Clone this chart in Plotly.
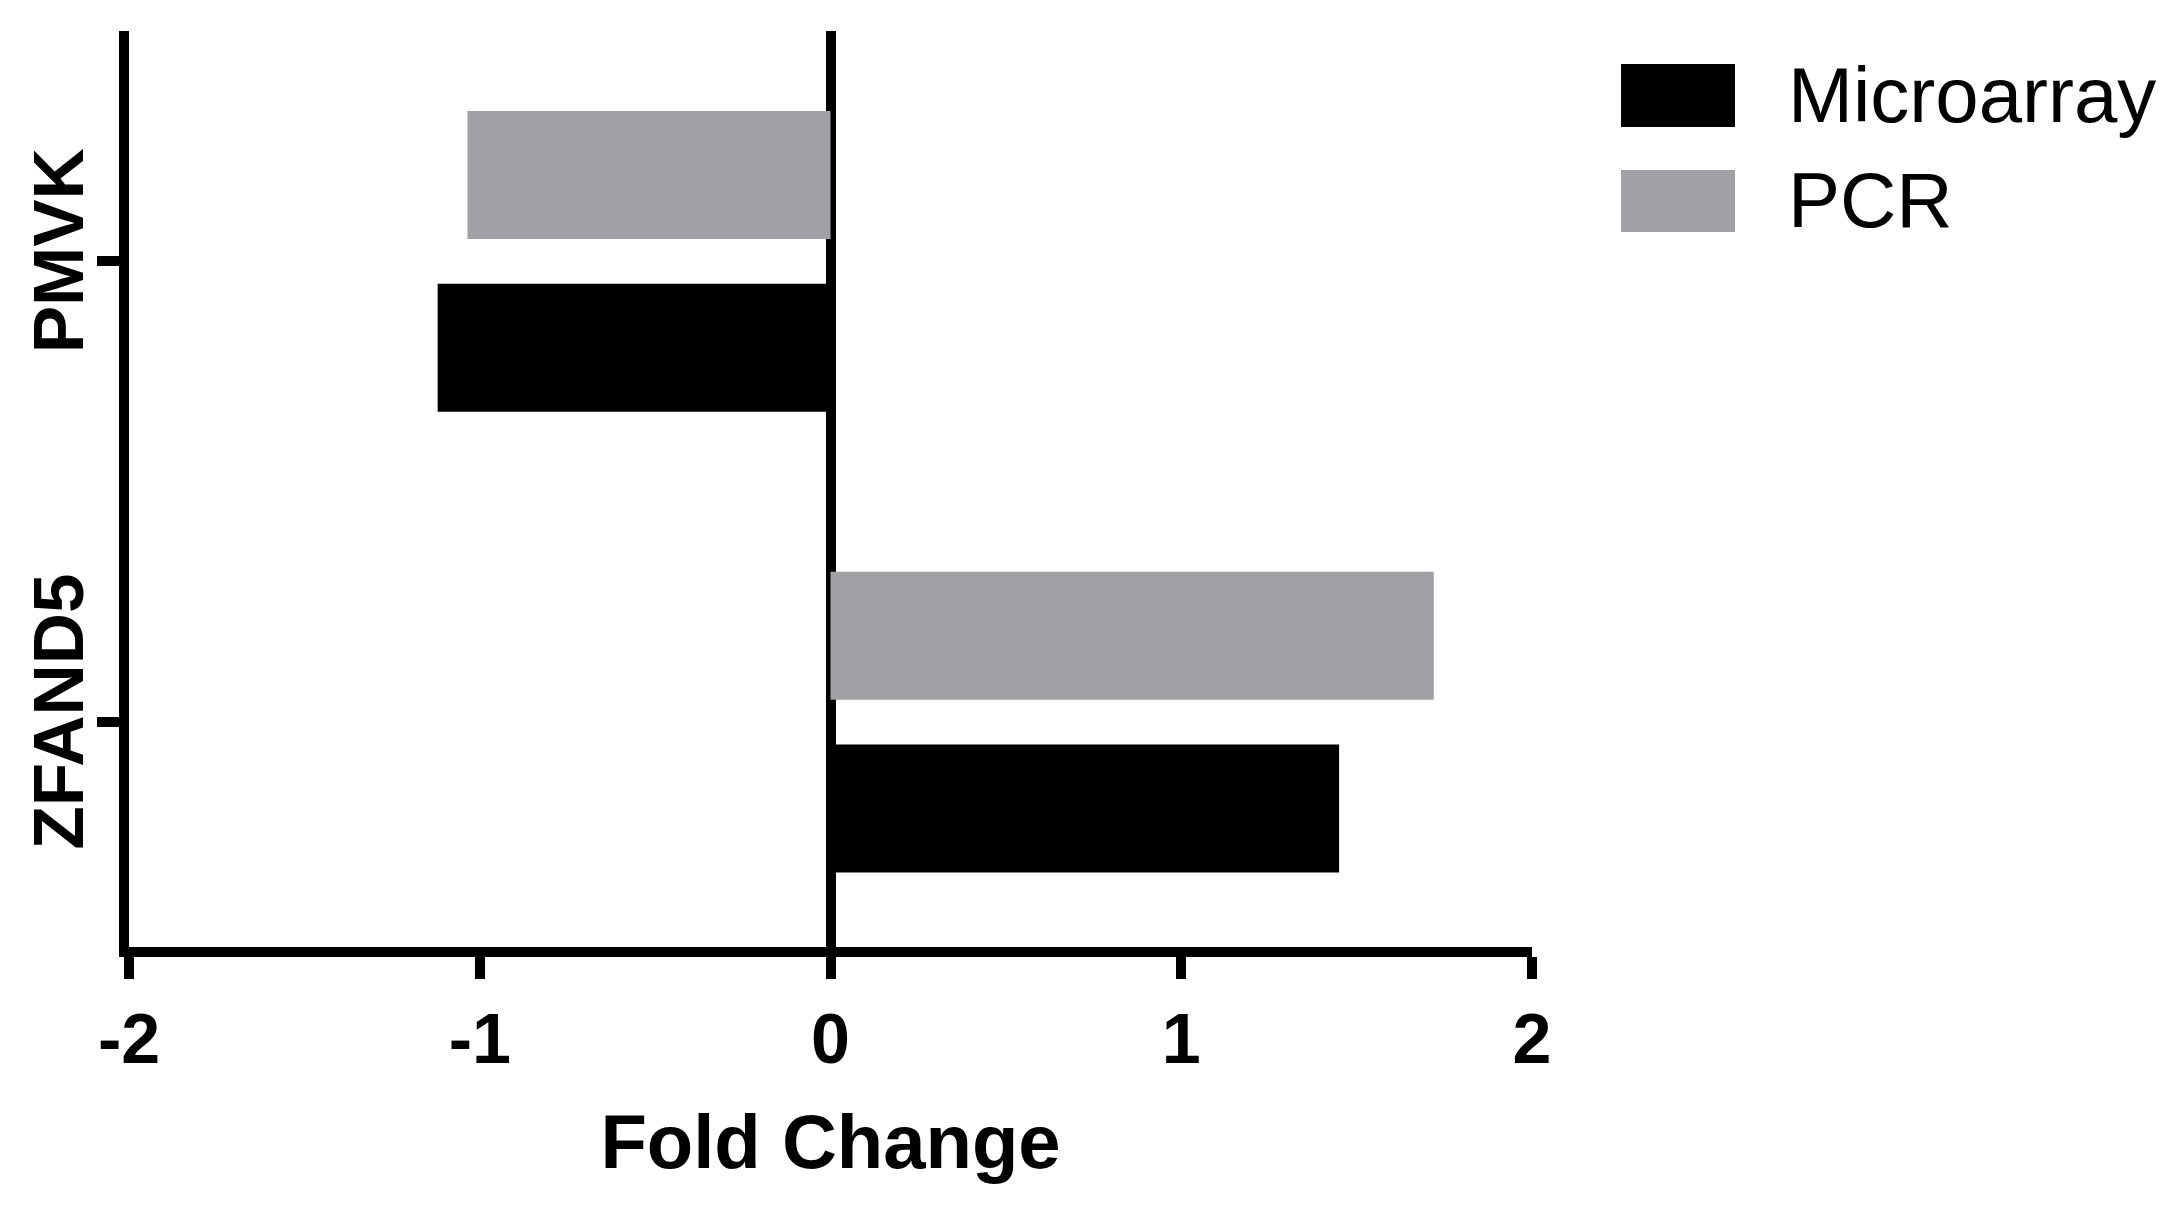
import plotly.graph_objects as go

# data
genes = ["ZFAND5", "PMVK"]
series = ["Microarray", "PCR"]
microarray = [1.45, -1.12]
pcr = [1.72, -1.035]
colors = ["#000000", "#A1A0A4"]
x_ticks = [-2, -1, 0, 1, 2]

W, H = 2184, 1217
OFF = 8  # default body margin of the html page
FW, FH = W - 2 * OFF, H - 2 * OFF
FONT = "Arial, Liberation Sans, sans-serif"


def px(x):
    return (x - OFF) / FW


def py(y):
    return 1 - (y - OFF) / FH


fig = go.Figure()
for name, vals, col in zip(series, [microarray, pcr], colors):
    fig.add_trace(go.Bar(
        y=genes, x=vals, name=name, orientation="h",
        marker=dict(color=col, line=dict(width=0)),
        showlegend=False,
    ))

fig.update_layout(
    width=FW, height=FH,
    margin=dict(l=0, r=0, t=0, b=0),
    paper_bgcolor="white", plot_bgcolor="white",
    barmode="group", bargap=0.25, bargroupgap=0.26,
    font=dict(family=FONT, color="black"),
)

fig.update_xaxes(
    domain=[px(129), px(1532)], automargin=False,
    range=[-2, 2], tickvals=x_ticks, ticktext=[str(t) for t in x_ticks],
    showgrid=False, showline=True, linewidth=10, linecolor="black",
    zeroline=True, zerolinewidth=10, zerolinecolor="black",
    ticks="outside", ticklen=22, tickwidth=10, tickcolor="black",
    tickfont=dict(size=70, family=FONT, weight="bold"),
    ticklabelstandoff=0,
    title=dict(text="Fold Change", font=dict(size=76, family=FONT, weight="bold"), standoff=42),
    layer="above traces",
)
fig.update_yaxes(
    domain=[py(947), py(31)], automargin=False,
    type="category", categoryorder="array", categoryarray=genes,
    range=[-0.488, 1.5],
    showgrid=False, showline=True, linewidth=10, linecolor="black",
    zeroline=False,
    ticks="outside", ticklen=22, tickwidth=10, tickcolor="black",
    tickangle=-90,
    tickfont=dict(size=71, family=FONT, weight="bold"),
    ticklabelstandoff=-14,
    layer="above traces",
)

# custom legend with large swatches
rows = [(64, 127, 93), (170, 232, 198)]
for (top, bot, mid), name, col in zip(rows, series, colors):
    fig.add_shape(type="rect", xref="paper", yref="paper",
                  x0=px(1621), x1=px(1735), y0=py(bot), y1=py(top),
                  fillcolor=col, line=dict(width=0))
    fig.add_annotation(xref="paper", yref="paper", x=px(1786), y=py(mid + 2),
                       text=name, showarrow=False, xanchor="left", yanchor="middle",
                       font=dict(size=78, family=FONT, color="black"))

fig.write_html("out.html")
